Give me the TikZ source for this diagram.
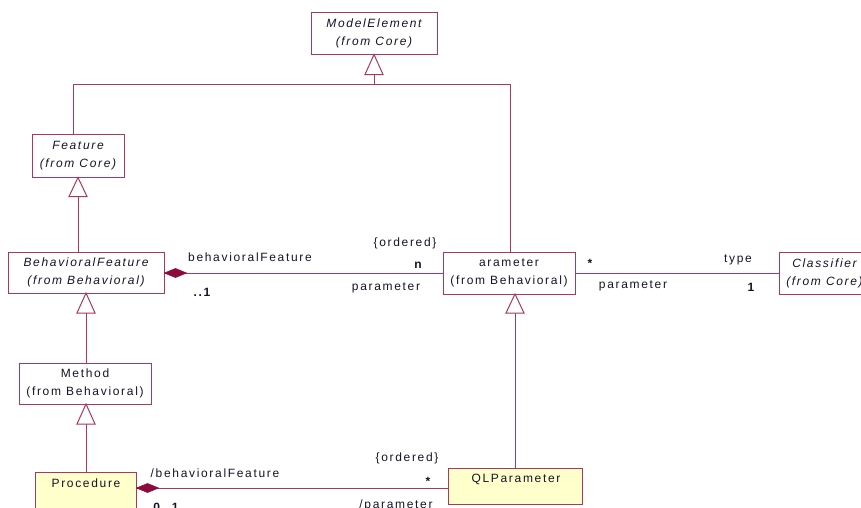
\documentclass[tikz,border=0pt]{standalone}
\usepackage{fontspec}
\setmainfont{Liberation Sans}[LetterSpace=14]
\begin{document}
\definecolor{umlline}{HTML}{A8385E}
\definecolor{umldia}{HTML}{8C0B3C}
\definecolor{umlfill}{HTML}{FFFFCC}
\definecolor{umltext}{HTML}{141428}
\begin{tikzpicture}[x=1pt,y=-1pt,
  every node/.style={text=umltext,font=\fontsize{12}{18}\selectfont},
  cls/.style={draw=umlline,line width=1pt,fill=white,inner sep=0,align=center},
  wire/.style={draw=umlline,line width=1pt},
  lbl/.style={inner sep=0},
  gen/.style={draw=umlline,line width=1pt,fill=white},
  comp/.style={fill=umldia,draw=umldia,line width=0.6pt}]
\useasboundingbox (0,0) rectangle (861,507);
\clip (0,0) rectangle (861,507);

% classes
\node[cls,minimum width=126,minimum height=42] (me) at (374,33) {\itshape ModelElement\\\itshape (from Core)};
\node[cls,minimum width=92,minimum height=43] (feat) at (78,155.5) {\itshape Feature\\\itshape (from Core)};
\node[cls,minimum width=156,minimum height=41] (bf) at (86,272.5) {\itshape BehavioralFeature\\\itshape (from Behavioral)};
\node[cls,minimum width=132,minimum height=42] (par) at (509,273) {arameter\\(from Behavioral)};
\node[cls,minimum width=91,minimum height=42] (cls) at (824.5,273) {\itshape Classifier\\\itshape (from Core)};
\node[cls,minimum width=132,minimum height=41] (meth) at (85,383.5) {Method\\(from Behavioral)};
\node[cls,fill=umlfill,minimum width=101,minimum height=60] (proc) at (85.5,502) {};
\node[lbl] (proct) at (86,483) {Procedure};
\node[cls,fill=umlfill,minimum width=134,minimum height=36] (qlp) at (515,486) {};
\node[lbl] (qlpt) at (516,479) {QLParameter};

% generalization: Feature / Parameter -> ModelElement
\coordinate (mebase) at (374,74);
\coordinate (jl) at (73,84);
\coordinate (jr) at (510,84);
\draw[wire] (mebase) -- (374,84);
\draw[wire] (jl) -- (jr);
\draw[wire] (jl) -- (73,134);
\draw[wire] (jr) -- (510,252);
\draw[gen] (me.south) -- ++(9,20) -- ++(-18,0) -- cycle;

% generalization: BehavioralFeature -> Feature
\draw[wire] (78,196) -- (78,252);
\draw[gen] (feat.south) -- ++(9,19) -- ++(-18,0) -- cycle;

% generalization: Method -> BehavioralFeature
\draw[wire] (86,313) -- (86,363);
\draw[gen] (86,293) -- ++(9,20) -- ++(-18,0) -- cycle;

% generalization: Procedure -> Method
\draw[wire] (86,424) -- (86,472);
\draw[gen] (86,404) -- ++(9,20) -- ++(-18,0) -- cycle;

% generalization: QLParameter -> Parameter
\draw[wire] (515,313) -- (515,468);
\draw[gen] (515,294) -- ++(9,19) -- ++(-18,0) -- cycle;

% associations
\coordinate (bfe) at (bf.east |- 0,273);
\draw[wire] (bfe) -- (par.west |- 0,273);
\draw[comp] (bfe) -- ++(11,-4.5) -- ++(11,4.5) -- ++(-11,4.5) -- cycle;
\draw[wire] (par.east) -- (cls.west);
\coordinate (proce) at (proc.east |- 0,488);
\draw[wire] (proce) -- (qlp.west |- 0,488);
\draw[comp] (proce) -- ++(11,-4.5) -- ++(11,4.5) -- ++(-11,4.5) -- cycle;

% association end labels
\node[lbl] (l1) at (250,257) {behavioralFeature};
\node[lbl] (l2) at (405,243) {\{ordered\}};
\node[lbl] (l3) at (418,265) {\bfseries n};
\node[lbl] (l4) at (386,288) {parameter};
\node[lbl] (l5) at (202,292) {\bfseries ..1};
\node[lbl] (l6) at (590,263) {\bfseries *};
\node[lbl] (l7) at (738,260) {type};
\node[lbl] (l8) at (633,286) {parameter};
\node[lbl] (l9) at (751,287) {\bfseries 1};
\node[lbl] (l10) at (215,473) {/behavioralFeature};
\node[lbl] (l11) at (407,458) {\{ordered\}};
\node[lbl] (l12) at (428,481) {\bfseries *};
\node[lbl] (l13) at (166,507) {\bfseries 0..1};
\node[lbl] (l14) at (396,505) {/parameter};
\end{tikzpicture}
\end{document}
